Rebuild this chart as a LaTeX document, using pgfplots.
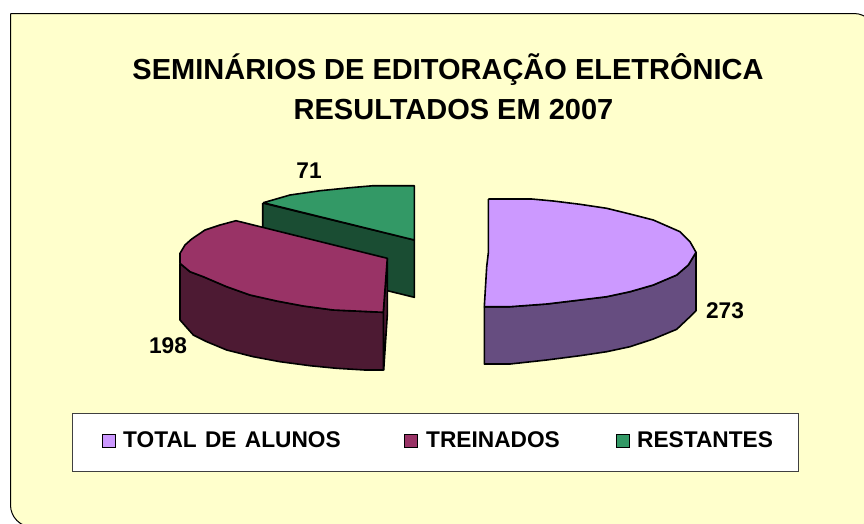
\documentclass[border=0pt]{standalone}
\usepackage{pgfplots}
\pgfplotsset{compat=1.18}
\usepackage{fontspec}
\setmainfont{Liberation Sans}
\definecolor{bg}{HTML}{FFFFCC}
\definecolor{lav}{HTML}{CC99FF}
\definecolor{lavd}{HTML}{664D80}
\definecolor{mar}{HTML}{993366}
\definecolor{mard}{HTML}{4D1A33}
\definecolor{gre}{HTML}{339966}
\definecolor{gred}{HTML}{1A4D33}
\begin{document}
\begin{tikzpicture}
\begin{axis}[
  scale only axis, width=864pt, height=523pt,
  xmin=0, xmax=864, ymin=0, ymax=523, y dir=reverse,
  hide axis, clip=true,
  outl/.style={draw=black, line width=1.6pt, line join=round},
]
% frame
\addplot[draw=black, line width=1pt, fill=bg, rounded corners=22pt] coordinates {(10.5,13.5) (876,13.5) (876,527) (10.5,527) (10.5,13.5)};
% green
\addplot[outl, fill=gred] coordinates {(262.7,203) (414.3,240) (414.3,297.3) (262.7,260) (262.7,203)};
\addplot[outl, fill=gre] coordinates {(263.3,202.7) (290,195) (320,190.7) (350,187.7) (373.3,185.7) (414.3,185.7) (414.3,240) (263.3,202.7)};
% maroon
\addplot[outl, fill=mard] coordinates {(387.3,258.3) (387.3,315) (383.7,370) (383.3,312.3) (387.3,258.3)};
\addplot[outl, fill=mard] coordinates {(180,263.3) (180,320) (193.3,335) (206.7,341.7) (226.7,350) (253.3,356.7) (280,361.7) (310,365.7) (336.7,368.3) (365,370) (383.3,370) (383.3,312.3) (333.3,310) (303.3,306) (276.7,301) (250,295) (226.7,286.7) (203.3,276.7) (190,271.7) (180,263.3)};
\addplot[outl, fill=mar] coordinates {(236,220.7) (387.3,258.3) (383.3,312.3) (333.3,310) (303.3,306) (276.7,301) (250,295) (226.7,286.7) (203.3,276.7) (190,271.7) (180,263.3) (180,253.3) (185,245) (191.7,239) (205,230) (220,225) (236,220.7)};
% lavender
\addplot[outl, fill=lavd] coordinates {(484.3,306.7) (484.3,364) (510,364) (546.7,360) (580,355.7) (606.7,351.7) (630,346.7) (653.3,339) (676.7,329.3) (690,316.7) (696,310.7) (696,252.3) (688.3,265) (676.7,275) (653.3,285) (630,291.7) (606.7,296.7) (580,300) (546.7,304) (510,306.7) (484.3,306.7)};
\addplot[outl, fill=lav] coordinates {(488.3,199) (531.7,199) (553.3,201) (580,204.3) (606.7,208.3) (630,214) (653.3,220) (680,231.7) (690,241.7) (696,252.3) (688.3,265) (676.7,275) (653.3,285) (630,291.7) (606.7,296.7) (580,300) (546.7,304) (510,306.7) (484.3,306.7) (486.7,266.7) (488.3,253) (488.3,199)};
% legend box
\addplot[draw=black!75, line width=1pt, fill=white] coordinates {(72,413) (798,413) (798,471) (72,471) (72,413)};
\addplot[only marks, mark=square*, mark size=6.8pt, mark options={draw=black, line width=1.3pt, fill=lav}] coordinates {(109,441)};
\addplot[only marks, mark=square*, mark size=6.8pt, mark options={draw=black, line width=1.3pt, fill=mar}] coordinates {(411,441)};
\addplot[only marks, mark=square*, mark size=6.8pt, mark options={draw=black, line width=1.3pt, fill=gre}] coordinates {(623,441)};
% text
\node[font=\bfseries\fontsize{29}{34}\selectfont] at (axis cs:448,70) {SEMINÁRIOS DE EDITORAÇÃO ELETRÔNICA};
\node[font=\bfseries\fontsize{29}{34}\selectfont] at (axis cs:453.5,110) {RESULTADOS EM 2007};
\node[font=\bfseries\fontsize{22.7}{28}\selectfont] at (axis cs:309,171) {71};
\node[font=\bfseries\fontsize{22.7}{28}\selectfont] at (axis cs:725,311) {273};
\node[font=\bfseries\fontsize{22.7}{28}\selectfont] at (axis cs:168,346) {198};
\node[font=\bfseries\fontsize{22.7}{28}\selectfont, anchor=west, inner sep=0pt] at (axis cs:123,440) {TOTAL\hspace{2pt} DE\hspace{2pt} ALUNOS};
\node[font=\bfseries\fontsize{22.7}{28}\selectfont, anchor=west, inner sep=0pt] at (axis cs:426,440) {TREINADOS};
\node[font=\bfseries\fontsize{22.7}{28}\selectfont, anchor=west, inner sep=0pt] at (axis cs:637,440) {RESTANTES};
\end{axis}
\pgfresetboundingbox
\useasboundingbox (0,0) rectangle (864pt,523pt);
\end{tikzpicture}
\end{document}
